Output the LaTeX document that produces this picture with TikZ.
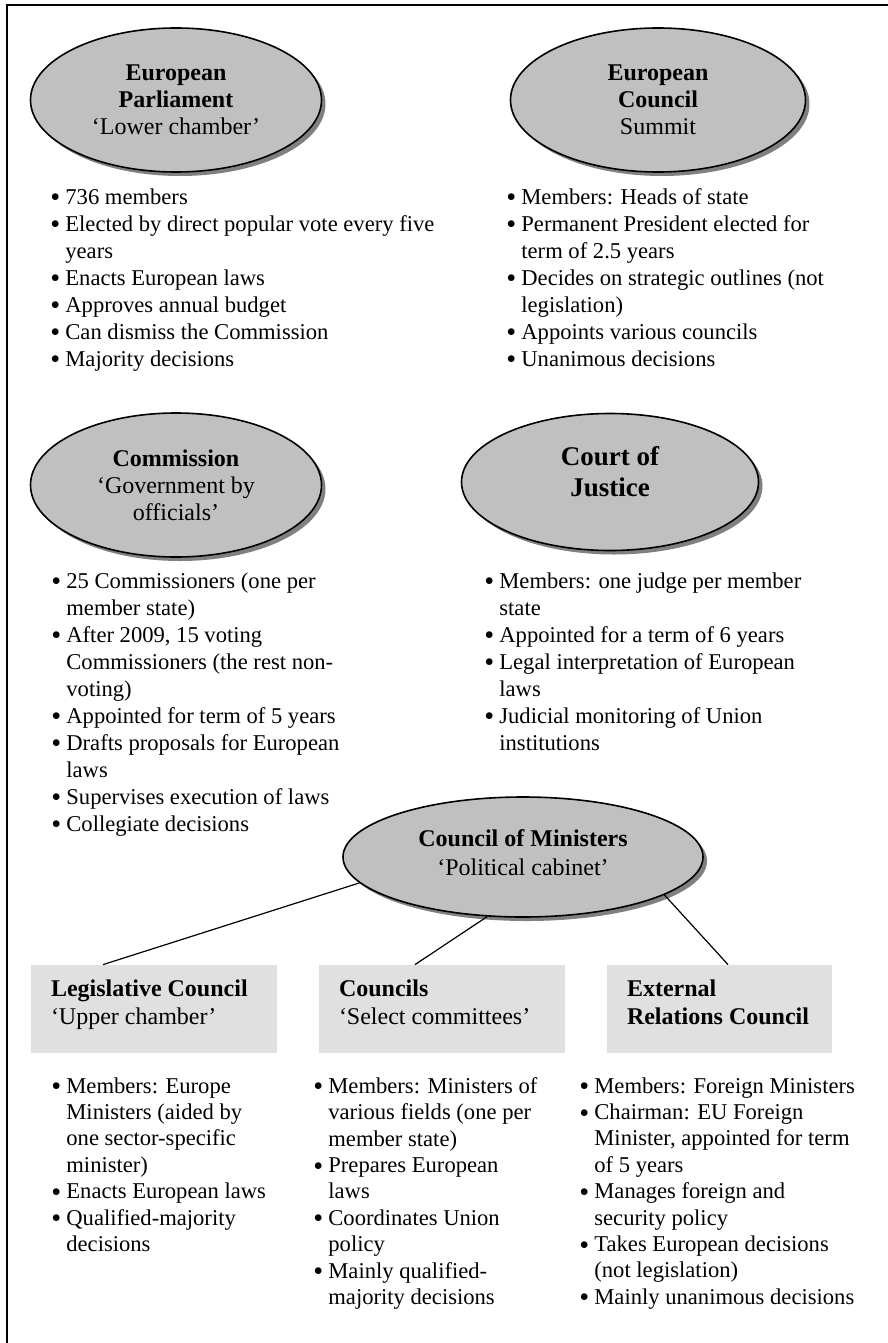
\documentclass[tikz,border=0pt]{standalone}
\usepackage{fontspec}
\setmainfont{Liberation Serif}
\usetikzlibrary{shapes.geometric,shadows,positioning}
\definecolor{ellgray}{RGB}{192,192,192}
\definecolor{boxgray}{RGB}{224,224,224}
\definecolor{shadowgray}{RGB}{128,128,128}
\newcommand{\bul}{\makebox[7.5pt][l]{\raisebox{-1.3pt}{\scalebox{1.25}{\textbullet}}}}
\newcommand{\ind}{\hspace*{7.5pt}}
\tikzset{
  inst/.style={ellipse, draw, line width=0.8pt, fill=ellgray, inner sep=0pt, align=center,
    font=\fontsize{12}{13.5}\selectfont,
    drop shadow={shadow xshift=2pt, shadow yshift=-2pt, fill=shadowgray, opacity=1}},
  cbox/.style={rectangle, fill=boxgray, minimum width=123pt, minimum height=44pt, inner sep=0pt},
  boxtitle/.style={align=left, inner sep=0pt, font=\fontsize{12}{14}\selectfont},
  items/.style={anchor=north west, align=left, inner sep=0pt, font=\fontsize{11.3}{13.5}\selectfont},
  link/.style={line width=0.6pt}
}
\begin{document}
\begin{tikzpicture}[x=0.5pt,y=-0.5pt]
\useasboundingbox (0,0) rectangle (888,1343);
\draw[line width=1pt] (7,1343) -- (7,5) -- (888,5);
% institutions
\node[inst, minimum width=145.5pt, minimum height=72pt] (parl) at (176,100)
  {\textbf{European}\\\textbf{Parliament}\\‘Lower chamber’};
\node[inst, minimum width=147.5pt, minimum height=72pt] (summit) at (658,100)
  {\textbf{European}\\\textbf{Council}\\Summit};
\node[inst, minimum width=145.5pt, minimum height=72pt] (comm) at (176,485)
  {\textbf{Commission}\\‘Government by\\officials’};
\node[inst, minimum width=148.5pt, minimum height=68.5pt] (court) at (610,482) {};
\node[align=center, inner sep=0pt, font=\bfseries\fontsize{13.5}{15.5}\selectfont]
  (courtname) at ([yshift=5pt]court.center) {Court of\\Justice};
\node[inst, minimum width=180pt, minimum height=60pt, font=\fontsize{12}{14.5}\selectfont]
  (cabinet) at (523,857)
  {\textbf{Council of Ministers}\\‘Political cabinet’\\[-10pt]\mbox{}};
% facts
\node[items] (parlitems) at (50,188) {\bul 736 members\\
  \bul Elected by direct popular vote every five\\
  \ind years\\
  \bul Enacts European laws\\
  \bul Approves annual budget\\
  \bul Can dismiss the Commission\\
  \bul Majority decisions};
\node[items] (summititems) at (506,188) {\bul Members: Heads of state\\
  \bul Permanent President elected for\\
  \ind term of 2.5 years\\
  \bul Decides on strategic outlines (not\\
  \ind legislation)\\
  \bul Appoints various councils\\
  \bul Unanimous decisions};
\node[items] (commitems) at (51,572) {\bul 25 Commissioners (one per\\
  \ind member state)\\
  \bul After 2009, 15 voting\\
  \ind Commissioners (the rest non-\\
  \ind voting)\\
  \bul Appointed for term of 5 years\\
  \bul Drafts proposals for European\\
  \ind laws\\
  \bul Supervises execution of laws\\
  \bul Collegiate decisions};
\node[items] (courtitems) at (484,572) {\bul Members: one judge per member\\
  \ind state\\
  \bul Appointed for a term of 6 years\\
  \bul Legal interpretation of European\\
  \ind laws\\
  \bul Judicial monitoring of Union\\
  \ind institutions};
% councils
\node[cbox] (legis) at (154,1009) {};
\node[cbox] (sel) at (442,1009) {};
\node[cbox, minimum width=112.5pt] (ext) at (719.5,1009) {};
\node[boxtitle, below right=7.5pt and 10pt of legis.north west] (legistitle)
  {\textbf{Legislative Council}\\‘Upper chamber’};
\node[boxtitle, below right=7.5pt and 10pt of sel.north west] (seltitle)
  {\textbf{Councils}\\‘Select committees’};
\node[boxtitle, below right=7.5pt and 10pt of ext.north west] (exttitle)
  {\textbf{External}\\\textbf{Relations Council}};
\draw[link] (cabinet.189) -- ([xshift=-25.5pt]legis.north);
\draw[link] (cabinet.239) -- ([xshift=-13.5pt]sel.north);
\draw[link] (cabinet.345) -- ([xshift=4.25pt]ext.north);
\node[items, font=\fontsize{11.3}{13.2}\selectfont] (legisitems) at (51,1077)
  {\bul Members: Europe\\
  \ind Ministers (aided by\\
  \ind one sector-specific\\
  \ind minister)\\
  \bul Enacts European laws\\
  \bul Qualified-majority\\
  \ind decisions};
\node[items, font=\fontsize{11.3}{13.2}\selectfont] (selitems) at (313,1077)
  {\bul Members: Ministers of\\
  \ind various fields (one per\\
  \ind member state)\\
  \bul Prepares European\\
  \ind laws\\
  \bul Coordinates Union\\
  \ind policy\\
  \bul Mainly qualified-\\
  \ind majority decisions};
\node[items, font=\fontsize{11.3}{13.2}\selectfont] (extitems) at (579,1077)
  {\bul Members: Foreign Ministers\\
  \bul Chairman: EU Foreign\\
  \ind Minister, appointed for term\\
  \ind of 5 years\\
  \bul Manages foreign and\\
  \ind security policy\\
  \bul Takes European decisions\\
  \ind (not legislation)\\
  \bul Mainly unanimous decisions};
\end{tikzpicture}
\end{document}
